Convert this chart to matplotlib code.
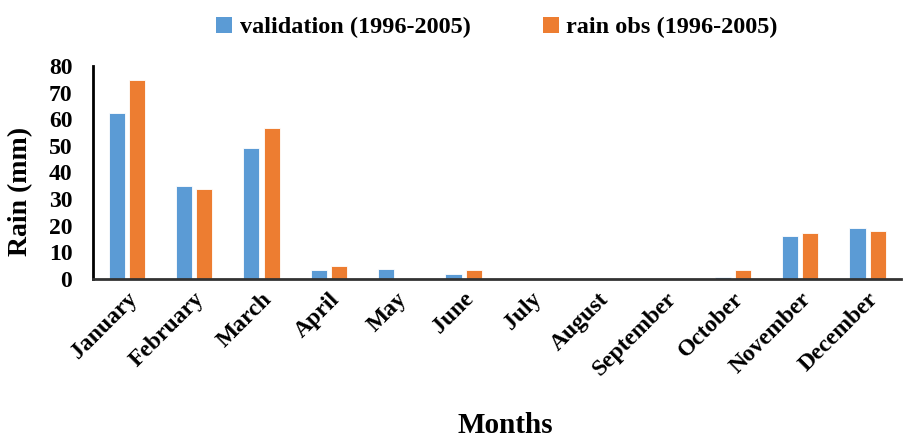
import numpy as np
import matplotlib.pyplot as plt

# monthly rain
months = ["January", "February", "March", "April", "May", "June", "July",
          "August", "September", "October", "November", "December"]
validation = [62.4, 34.7, 49.0, 3.3, 3.6, 1.9, 0.0, 0.0, 0.0, 0.8, 16.2, 19.0]
rain_obs = [74.8, 33.7, 56.6, 5.0, 0.0, 3.3, 0.0, 0.0, 0.0, 3.3, 17.2, 18.0]
y_ticks = [0, 10, 20, 30, 40, 50, 60, 70, 80]

BLUE = "#5B9BD5"
ORANGE = "#ED7D31"
FONT = "Liberation Serif"


def main():
    fig = plt.figure(figsize=(9.04, 4.37), dpi=100)
    ax = fig.add_axes([0.103, 0.362, 0.894, 0.487])

    x = np.arange(len(months))
    w = 0.24
    off = 0.15
    ax.bar(x - off, validation, w, color=BLUE, edgecolor="white",
           linewidth=0.6, label="validation (1996-2005)")
    ax.bar(x + off, rain_obs, w, color=ORANGE, edgecolor="white",
           linewidth=0.6, label="rain obs (1996-2005)")

    ax.set_xlim(-0.5, len(months) - 0.5)
    ax.set_ylim(0, 80)
    ax.set_yticks(y_ticks)
    ax.set_yticklabels([str(v) for v in y_ticks], fontfamily=FONT,
                       fontweight="bold", fontsize=17)
    ax.set_xticks(x)
    ax.set_xticklabels(months, rotation=45, ha="right", rotation_mode="anchor",
                       fontfamily=FONT, fontweight="bold", fontsize=17)
    ax.tick_params(axis="y", length=0, pad=15)
    ax.tick_params(axis="x", length=0, pad=7)

    for side in ("top", "right"):
        ax.spines[side].set_visible(False)
    ax.spines["left"].set_linewidth(2.0)
    ax.spines["left"].set_color("black")
    ax.spines["bottom"].set_linewidth(2.0)
    ax.spines["bottom"].set_color("#333333")

    ax.set_ylabel("Rain (mm)", fontfamily=FONT, fontweight="bold", fontsize=20)
    ax.yaxis.set_label_coords(-0.074, 0.41)
    ax.set_xlabel("Months", fontfamily=FONT, fontweight="bold", fontsize=21)
    ax.xaxis.set_label_coords(0.51, -0.625)

    leg = ax.legend(loc="center", bbox_to_anchor=(0.5, 1.18), ncol=2,
                    frameon=False, handlelength=0.65, handleheight=0.65,
                    handletextpad=0.3, columnspacing=3.0,
                    prop={"family": FONT, "weight": "bold", "size": 17.5})
    for h in leg.legend_handles:
        h.set_edgecolor("none")

    fig.savefig("out.png", dpi=100)
    plt.close(fig)


if __name__ == "__main__":
    main()
